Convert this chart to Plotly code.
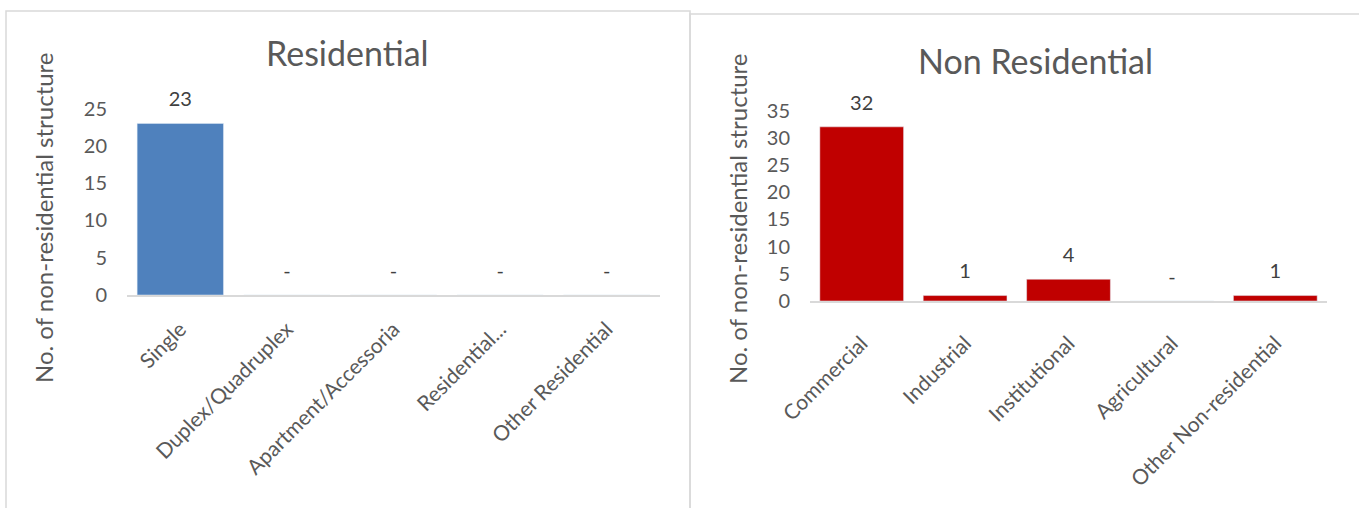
import plotly.graph_objects as go

# Building permit counts by structure type
res_categories = ["Single", "Duplex/Quadruplex", "Apartment/Accessoria",
                  "Residential...", "Other Residential"]
res_values = [23, 0, 0, 0, 0]

nonres_categories = ["Commercial", "Industrial", "Institutional",
                     "Agricultural", "Other Non-residential"]
nonres_values = [32, 1, 4, 0, 1]

y_title = "No. of non-residential structure"

W, H = 1359, 508
FONT = "Lato, 'Open Sans', sans-serif"
TEXT = "#595959"
LABEL = "#404040"
GRID = "#D9D9D9"


def px_x(x):
    return x / W


def px_y(y):
    return (H - y) / H


def labels(vals):
    return [str(v) if v else "-" for v in vals]


fig = go.Figure()


def add_panel(cats, vals, color, xa, ya):
    fig.add_trace(go.Bar(
        x=cats, y=vals, marker=dict(color=color),
        xaxis=xa, yaxis=ya, showlegend=False, hoverinfo="x+y",
    ))
    # value labels sitting above each bar ("-" for zero counts)
    fig.add_trace(go.Scatter(
        x=cats, y=vals, text=labels(vals), mode="markers+text",
        textposition="top center",
        marker=dict(size=18, color="rgba(0,0,0,0)"),
        textfont=dict(size=20, color=LABEL, family=FONT),
        cliponaxis=False, xaxis=xa, yaxis=ya,
        showlegend=False, hoverinfo="skip",
    ))


add_panel(res_categories, res_values, "#4F81BD", "x", "y")
add_panel(nonres_categories, nonres_values, "#C00000", "x2", "y2")

xaxis_common = dict(
    showline=True, linecolor=GRID, linewidth=1.5, ticks="",
    tickangle=-45, showgrid=False, zeroline=False,
    tickfont=dict(size=21, color=TEXT, family=FONT),
)
yaxis_common = dict(
    showline=False, showgrid=False, zeroline=False, ticks="",
    ticklabelstandoff=19,
    tickfont=dict(size=20, color=TEXT, family=FONT),
)

fig.update_layout(
    width=W, height=H,
    margin=dict(l=0, r=0, t=0, b=0, autoexpand=False),
    paper_bgcolor="white", plot_bgcolor="white",
    bargap=0.19,
    font=dict(family=FONT, color=TEXT),
    xaxis=dict(domain=[px_x(127), px_x(660)], anchor="y",
               ticklabelstandoff=12, **xaxis_common),
    yaxis=dict(domain=[px_y(295), px_y(108.5)], anchor="x",
               range=[0, 25], dtick=5, **yaxis_common),
    xaxis2=dict(domain=[px_x(810), px_x(1327)], anchor="y2",
                ticklabelstandoff=20, **xaxis_common),
    yaxis2=dict(domain=[px_y(301), px_y(110.5)], anchor="x2",
                range=[0, 35], dtick=5, **yaxis_common),
    shapes=[
        dict(type="rect", xref="paper", yref="paper",
             x0=px_x(6), x1=px_x(690), y0=-0.02, y1=px_y(11),
             line=dict(color=GRID, width=1.5), layer="below"),
        dict(type="rect", xref="paper", yref="paper",
             x0=px_x(690), x1=1.02, y0=-0.02, y1=px_y(14),
             line=dict(color=GRID, width=1.5), layer="below"),
    ],
    annotations=[
        dict(text="Residential", xref="paper", yref="paper",
             x=px_x(348), y=px_y(52), showarrow=False,
             xanchor="center", yanchor="middle",
             font=dict(size=34, color=TEXT, family=FONT)),
        dict(text="Non Residential", xref="paper", yref="paper",
             x=px_x(1035), y=px_y(60), showarrow=False,
             xanchor="center", yanchor="middle",
             font=dict(size=34, color=TEXT, family=FONT)),
        dict(text=y_title, xref="paper", yref="paper",
             x=px_x(43), y=px_y(218), showarrow=False, textangle=-90,
             xanchor="center", yanchor="middle",
             font=dict(size=24, color=TEXT, family=FONT)),
        dict(text=y_title, xref="paper", yref="paper",
             x=px_x(737), y=px_y(218), showarrow=False, textangle=-90,
             xanchor="center", yanchor="middle",
             font=dict(size=24, color=TEXT, family=FONT)),
    ],
)

fig.write_html("out.html")
